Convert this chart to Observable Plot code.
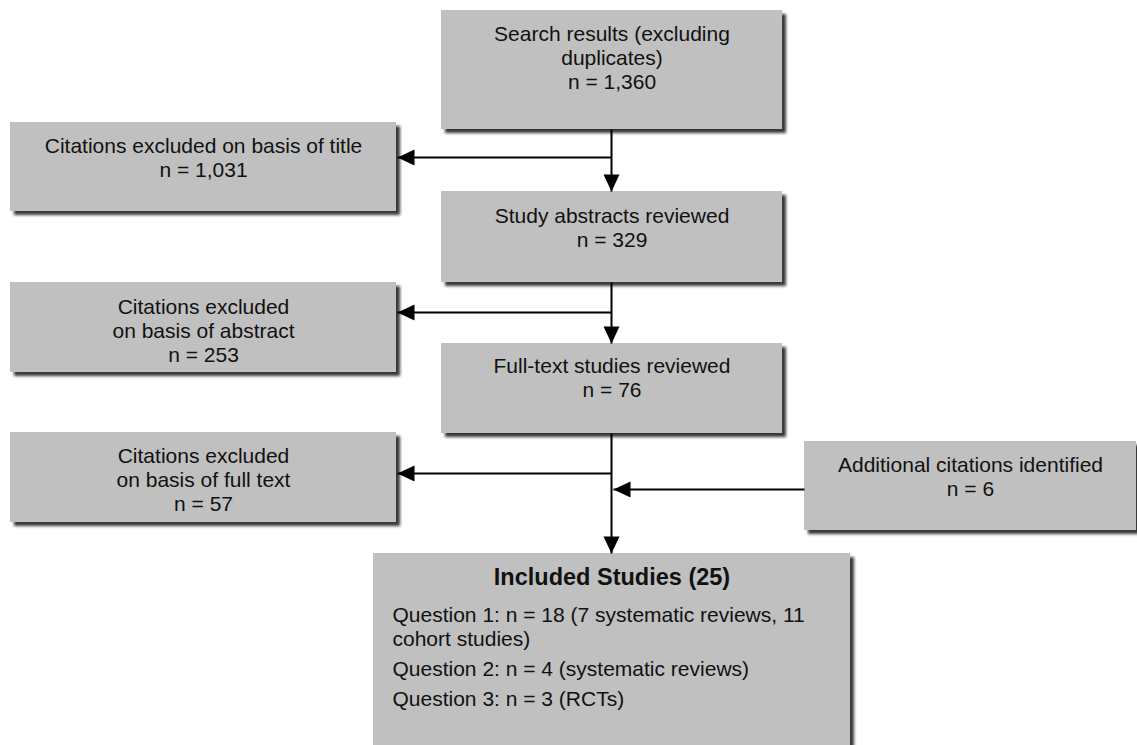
<!DOCTYPE html>
<html>
<head>
<meta charset="utf-8">
<script src="https://cdn.jsdelivr.net/npm/d3@7"></script>
<script src="https://cdn.jsdelivr.net/npm/@observablehq/plot@0.6"></script>
<style>
  html, body { margin: 0; padding: 0; background: #fff; overflow: hidden; }
  #chart { width: 1137px; height: 745px; overflow: hidden; }
</style>
</head>
<body>
<div id="chart"></div>
<script>
// ---- content (text and counts) ----
const stageLabels = [
  "Search results (excluding\nduplicates)",
  "Citations excluded on basis of title",
  "Study abstracts reviewed",
  "Citations excluded\non basis of abstract",
  "Full-text studies reviewed",
  "Citations excluded\non basis of full text",
  "Additional citations identified"
];
const stageCounts = ["1,360", "1,031", "329", "253", "76", "57", "6"];
const includedTitle = "Included Studies (25)";
const includedLines = [
  "Question 1: n = 18 (7 systematic reviews, 11\ncohort studies)",
  "Question 2: n = 4 (systematic reviews)",
  "Question 3: n = 3 (RCTs)"
];

// ---- layout (diagram coordinates) ----
const boxLayout = [
  {x1: 441, x2: 782, y1: 10,  y2: 129, ty: 57},
  {x1: 10,  x2: 396, y1: 122, y2: 211, ty: 156.5},
  {x1: 441, x2: 782, y1: 191, y2: 282, ty: 226.5},
  {x1: 10,  x2: 396, y1: 282, y2: 372, ty: 329.5},
  {x1: 441, x2: 782, y1: 343, y2: 433, ty: 376.5},
  {x1: 10,  x2: 396, y1: 432, y2: 522, ty: 478.5},
  {x1: 804, x2: 1136, y1: 441, y2: 530, ty: 475.5},
  {x1: 373, x2: 850, y1: 553, y2: 770, ty: 577}
];
const includedLayout = [{y: 625.5}, {y: 668}, {y: 698}];
const includedTextX = 392;

const connectors = [
  {x1: 611, y1: 129, x2: 611, y2: 191},
  {x1: 611, y1: 282, x2: 611, y2: 343},
  {x1: 611, y1: 433, x2: 611, y2: 553},
  {x1: 611, y1: 157, x2: 397, y2: 157},
  {x1: 611, y1: 312, x2: 397, y2: 312},
  {x1: 611, y1: 473, x2: 397, y2: 473},
  {x1: 804, y1: 489, x2: 613, y2: 489}
];
const arrowHeads = connectors.map(c => ({
  x: c.x2, y: c.y2,
  rotate: c.x1 === c.x2 ? 180 : 270
}));

const stageText = stageLabels.map((l, i) => ({
  text: l + "\nn = " + stageCounts[i],
  x: (boxLayout[i].x1 + boxLayout[i].x2) / 2,
  y: boxLayout[i].ty
}));
const titleBox = boxLayout[7];
const includedText = includedLines.map((t, i) => ({text: t, x: includedTextX, y: includedLayout[i].y}));

const font = "'Liberation Sans', Arial, Helvetica, sans-serif";

const chart = Plot.plot({
  width: 1137,
  height: 745,
  margin: 0,
  style: {fontFamily: font, background: "#fff", overflow: "hidden"},
  x: {domain: [0, 1137], range: [0, 1137], axis: null},
  y: {domain: [0, 745], range: [0, 745], axis: null},
  marks: [
    Plot.rect(boxLayout, {x1: "x1", x2: "x2", y1: "y1", y2: "y2", fill: "#c0c0c0"}),
    Plot.link(connectors, {x1: "x1", y1: "y1", x2: "x2", y2: "y2", stroke: "#000", strokeWidth: 2}),
    Plot.vector(arrowHeads, {x: "x", y: "y", rotate: "rotate", length: 17, r: 8, shape: "spike", anchor: "end", fill: "#000", stroke: "none"}),
    Plot.text(stageText, {x: "x", y: "y", text: "text", fontSize: 21, lineHeight: 1.15, lineAnchor: "middle", textAnchor: "middle", fill: "#111"}),
    Plot.text([includedTitle], {x: (titleBox.x1 + titleBox.x2) / 2, y: titleBox.ty, text: d => d, fontSize: 23.5, fontWeight: "bold", lineAnchor: "middle", textAnchor: "middle", fill: "#111"}),
    Plot.text(includedText, {x: "x", y: "y", text: "text", fontSize: 21, lineHeight: 1.17, lineAnchor: "middle", textAnchor: "start", fill: "#111"})
  ]
});

// drop shadow for the boxes
const ns = "http://www.w3.org/2000/svg";
const defs = document.createElementNS(ns, "defs");
const filter = document.createElementNS(ns, "filter");
filter.setAttribute("id", "boxShadow");
filter.setAttribute("x", "-5%");
filter.setAttribute("y", "-5%");
filter.setAttribute("width", "115%");
filter.setAttribute("height", "120%");
const fe = document.createElementNS(ns, "feDropShadow");
fe.setAttribute("dx", "4");
fe.setAttribute("dy", "4");
fe.setAttribute("stdDeviation", "1.8");
fe.setAttribute("flood-color", "#000");
fe.setAttribute("flood-opacity", "0.78");
filter.appendChild(fe);
defs.appendChild(filter);
chart.insertBefore(defs, chart.firstChild);
const firstRect = chart.querySelector("rect");
if (firstRect && firstRect.parentNode) {
  firstRect.parentNode.setAttribute("filter", "url(#boxShadow)");
}

document.getElementById("chart").appendChild(chart);
</script>
</body>
</html>
